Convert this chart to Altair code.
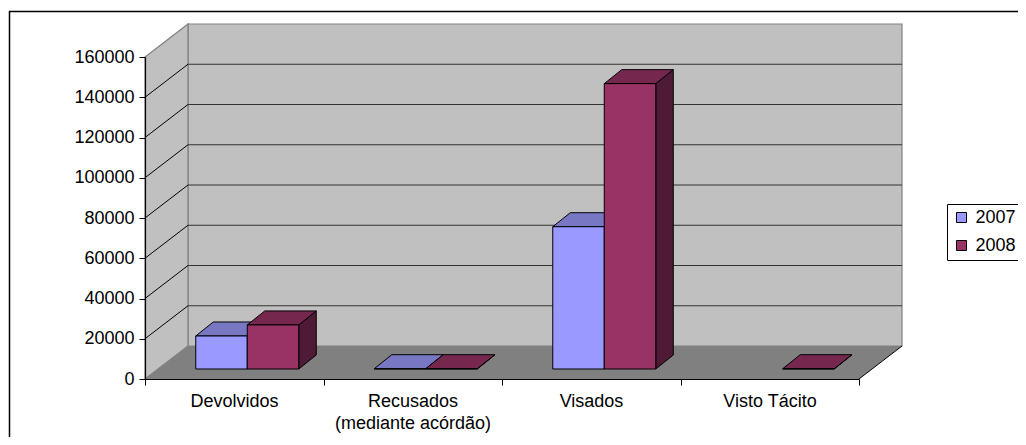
import json
import altair as alt
import pandas as pd

categories = ["Devolvidos", "Recusados\n(mediante acórdão)", "Visados", "Visto Tácito"]
series_names = ["2007", "2008"]
values_2007 = [16400, 150, 70700, None]
values_2008 = [21900, 150, 141800, 150]
y_ticks = [0, 20000, 40000, 60000, 80000, 100000, 120000, 140000, 160000]

front_colors = {"2007": "#9999FF", "2008": "#993366"}
top_colors = {"2007": "#7777C4", "2008": "#76274E"}
side_colors = {"2007": "#5A5A94", "2008": "#4E1A35"}

# depth of the 3-D box, in data units of the two scales
PX_X = 4 / 714
PX_Y = 160000 / 322
WALL_DX, WALL_DY = 43 * PX_X, 33 * PX_Y
BAR_DX, BAR_DY = 17.5 * PX_X, 14 * PX_Y
BASE_DX, BASE_DY = 13 * PX_X, 10 * PX_Y
BAR_W = 51.5 * PX_X
YMAX = y_ticks[-1]

label_lists = [c.split("\n") for c in categories] + [""]
label_expr = json.dumps(label_lists, ensure_ascii=False) + "[datum.value]"

x_scale = alt.Scale(domain=[0, 4], nice=False, zero=False)
y_scale = alt.Scale(domain=[0, YMAX], nice=False, zero=False)
X = alt.X("x:Q", scale=x_scale, title=None,
          axis=alt.Axis(values=[0, 1, 2, 3, 4], grid=False, domainColor="#000000",
                        domainWidth=1.2, tickColor="#000000", tickSize=6, labelExpr=label_expr,
                        labelOffset=89, labelFont="Liberation Sans", labelFontSize=18,
                        labelColor="#000000", labelPadding=7, labelOverlap=False,
                        labelBound=False, labelFlush=False, labelLineHeight=22.5,
                        labelLimit=300, zindex=1))
Y = alt.Y("y:Q", scale=y_scale, title=None,
          axis=alt.Axis(values=y_ticks, grid=False, domainColor="#000000", domainWidth=1.2,
                        tickColor="#000000", tickSize=6, labelFont="Liberation Sans",
                        labelFontSize=18, labelColor="#000000", labelPadding=5,
                        labelOverlap=False, format="d", zindex=1))

# ---- walls and floor
wall_left = pd.DataFrame({"x": [0, WALL_DX], "y": [0, WALL_DY], "y2": [YMAX, YMAX + WALL_DY]})
walls = alt.Chart(wall_left).mark_area(fill="#C0C0C0", stroke="#808080", strokeWidth=1.2).encode(
    x=X, y=Y, y2="y2:Q")
back = pd.DataFrame({"x": [WALL_DX], "x2": [4 + WALL_DX], "y": [WALL_DY], "y2": [YMAX + WALL_DY]})
back_wall = alt.Chart(back).mark_rect(fill="#C0C0C0", stroke="#808080", strokeWidth=1.2).encode(
    x=X, x2="x2:Q", y=Y, y2="y2:Q")
floor_df = pd.DataFrame({"x": [0, WALL_DX], "x2": [4, 4 + WALL_DX], "y": [0, WALL_DY]})
floor = alt.Chart(floor_df).mark_area(orient="horizontal", fill="#808080").encode(
    x=X, x2="x2:Q", y=Y)

# ---- gridlines
back_grid = alt.Chart(pd.DataFrame({
    "x": [WALL_DX] * (len(y_ticks) - 2),
    "x2": [4 + WALL_DX] * (len(y_ticks) - 2),
    "y": [t + WALL_DY for t in y_ticks[1:-1]],
})).mark_rule(color="#333333", strokeWidth=1).encode(x=X, x2="x2:Q", y=Y)
side_rows = []
for t in y_ticks[1:-1]:
    side_rows += [{"t": t, "x": 0, "y": t}, {"t": t, "x": WALL_DX, "y": t + WALL_DY}]
side_grid = alt.Chart(pd.DataFrame(side_rows)).mark_line(color="#000000", strokeWidth=1).encode(
    x=X, y=Y, detail="t:N")
floor_edge = alt.Chart(pd.DataFrame({"x": [4, 4 + WALL_DX], "y": [0, WALL_DY]})).mark_line(
    color="#000000", strokeWidth=1).encode(x=X, y=Y)

# ---- bars
def series_layers(name, vals, offset):
    rows_f, rows_t, rows_s = [], [], []
    for i, v in enumerate(vals):
        if v is None:
            continue
        left = i + 0.5 - BAR_W + offset * BAR_W + BASE_DX
        right = left + BAR_W
        base, top = BASE_DY, BASE_DY + v
        rows_f.append({"x": left, "x2": right, "y": base, "y2": top, "series": name})
        rows_t += [{"bar": i, "x": left, "x2": right, "y": top},
                   {"bar": i, "x": left + BAR_DX, "x2": right + BAR_DX, "y": top + BAR_DY}]
        rows_s += [{"bar": i, "x": right, "y": base, "y2": top},
                   {"bar": i, "x": right + BAR_DX, "y": base + BAR_DY, "y2": top + BAR_DY}]
    side = alt.Chart(pd.DataFrame(rows_s)).mark_area(
        fill=side_colors[name], stroke="#000000", strokeWidth=1).encode(
        x=X, y=Y, y2="y2:Q", detail="bar:N")
    top = alt.Chart(pd.DataFrame(rows_t)).mark_area(
        orient="horizontal", fill=top_colors[name], stroke="#000000", strokeWidth=1).encode(
        x=X, x2="x2:Q", y=Y, detail="bar:N")
    front = alt.Chart(pd.DataFrame(rows_f)).mark_rect(stroke="#000000", strokeWidth=1).encode(
        x=X, x2="x2:Q", y=Y, y2="y2:Q",
        color=alt.Color("series:N", title=None,
                        scale=alt.Scale(domain=series_names,
                                        range=[front_colors[s] for s in series_names]),
                        legend=alt.Legend(orient="none", legendX=802, legendY=147,
                                          fillColor="#FFFFFF", strokeColor="#000000",
                                          padding=5.5, symbolType="square", symbolSize=100,
                                          symbolStrokeColor="#000000", symbolStrokeWidth=1,
                                          symbolOpacity=1, clipHeight=16,
                                          labelFont="Liberation Sans", labelFontSize=18,
                                          labelColor="#000000", rowPadding=10, labelOffset=5,
                                          labelLimit=200)))
    return [side, top, front]

# ---- outer frame of the chart (its right and bottom edges fall outside the picture)
frame = alt.Chart(pd.DataFrame({"a": [0]})).mark_rect(
    fill="transparent", stroke="#000000", strokeWidth=1.5).encode(
    x=alt.value(-135.5), x2=alt.value(920), y=alt.value(-45.5), y2=alt.value(400))

layers = [frame, back_wall, walls, floor, back_grid, side_grid, floor_edge]
layers += series_layers("2007", values_2007, 0)
layers += series_layers("2008", values_2008, 1)

chart = alt.layer(*layers).properties(
    width=714, height=322,
    autosize=alt.AutoSizeParams(type="none"),
    padding={"left": 137, "top": 49, "right": 159, "bottom": 58},
).configure_view(stroke=None)

chart.save("out.html", embed_options={"renderer": "svg", "actions": False})
